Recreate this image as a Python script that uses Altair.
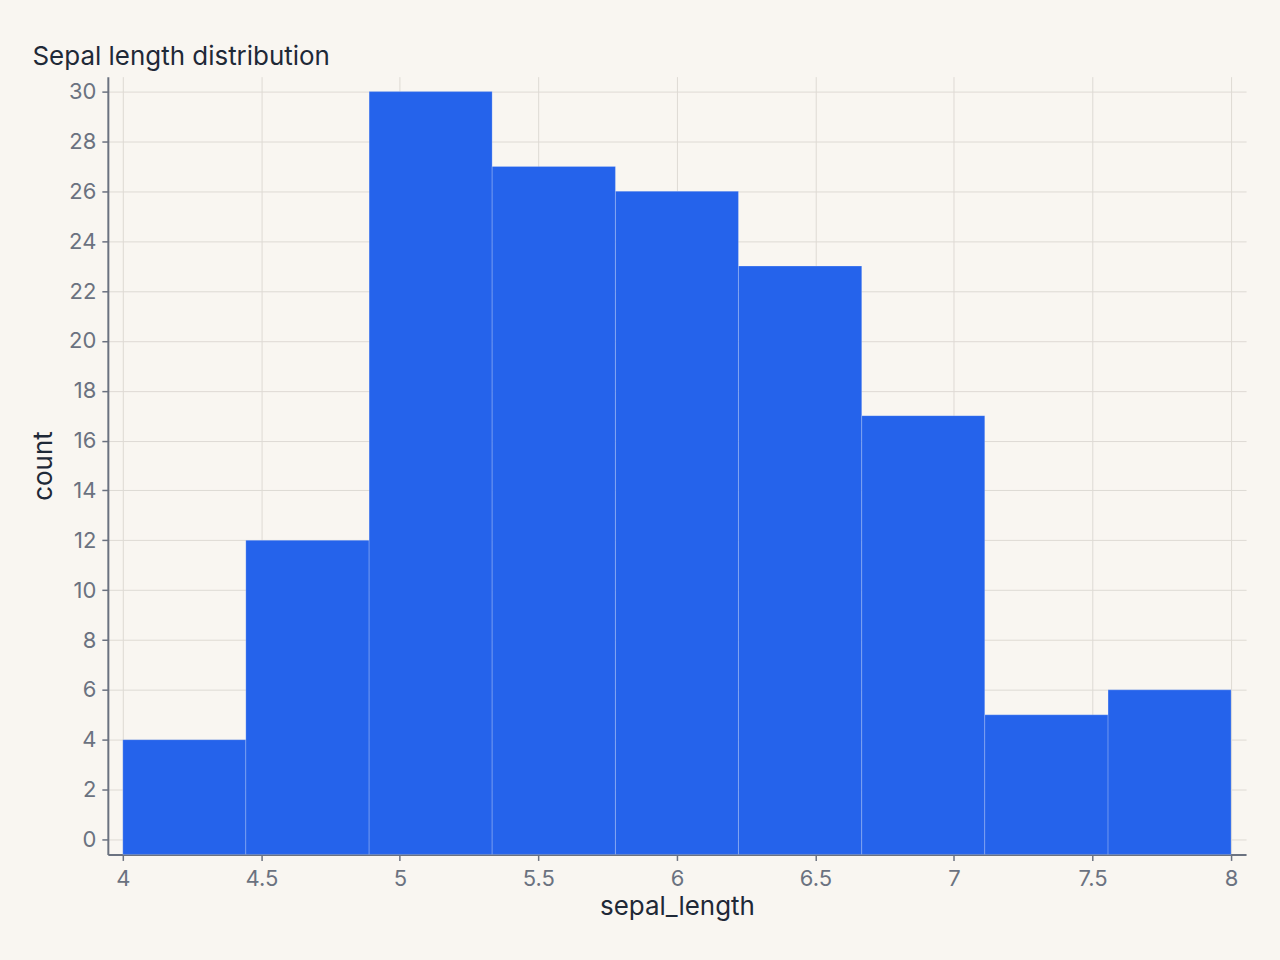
import altair as alt
import pandas as pd

bin_start = [4.0, 4.444, 4.889, 5.333, 5.778, 6.222, 6.667, 7.111, 7.556]
bin_end = [4.444, 4.889, 5.333, 5.778, 6.222, 6.667, 7.111, 7.556, 8.0]
counts = [4, 12, 30, 27, 26, 23, 17, 5, 6]
x_ticks = [4, 4.5, 5, 5.5, 6, 6.5, 7, 7.5, 8]

df = pd.DataFrame({"bin_start": bin_start, "bin_end": bin_end, "count": counts})

FONT = "Inter"
AXIS_COLOR = "#6b7280"
GRID_COLOR = "#dedad4"

chart = (
    alt.Chart(df)
    .mark_bar(color="#2563eb", stroke="#ffffff", strokeWidth=0.6, strokeOpacity=0.35)
    .encode(
        x=alt.X(
            "bin_start:Q",
            title="sepal_length",
            scale=alt.Scale(domain=[4, 8], nice=False, zero=False, padding=15),
            axis=alt.Axis(values=x_ticks, format="~g", labelPadding=8, titlePadding=4),
        ),
        x2="bin_end:Q",
        y=alt.Y(
            "count:Q",
            title="count",
            scale=alt.Scale(domain=[0, 30], nice=False, zero=False, padding=15),
            axis=alt.Axis(tickCount=15, titlePadding=12),
        ),
        y2=alt.value("height"),
    )
    .properties(
        width=1140,
        height=779,
        title=alt.TitleParams("Sepal length distribution", anchor="start", offset=7, dx=2),
        background="#f9f6f1",
        padding={"left": 30, "top": 43, "right": 34, "bottom": 40},
    )
    .configure_view(stroke=None)
    .configure_title(font=FONT, fontSize=26, fontWeight="normal", color="#1f2937")
    .configure_axis(
        labelFont=FONT,
        labelFontSize=22,
        labelColor=AXIS_COLOR,
        titleFont=FONT,
        titleFontSize=26,
        titleFontWeight="normal",
        titleColor="#1f2937",
        domainColor=AXIS_COLOR,
        domainWidth=2,
        tickColor=AXIS_COLOR,
        tickWidth=1.5,
        tickSize=6,
        gridColor=GRID_COLOR,
        gridWidth=1,
        labelPadding=6,
    )
)

chart.save("out.html", embed_options={"renderer": "svg", "actions": False})
